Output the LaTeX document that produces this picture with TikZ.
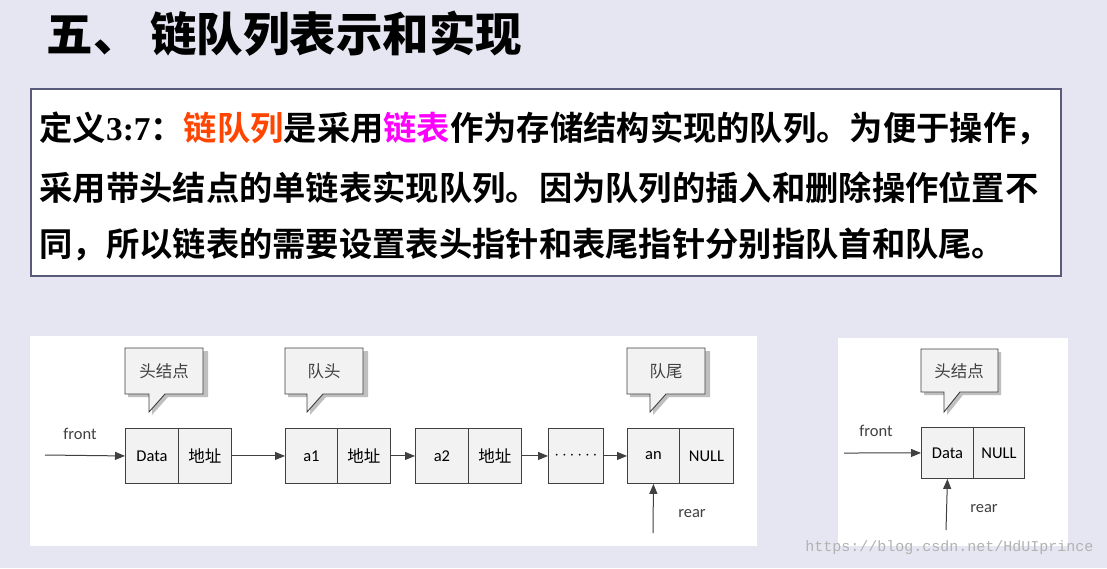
\documentclass[tikz,border=0pt]{standalone}
\usepackage{fontspec}
\setmainfont{Liberation Serif}
\setsansfont{Carlito}
\setmonofont{Liberation Mono}
\newfontfamily\cjk{Noto Sans CJK SC}
\newfontfamily\cjkb{Noto Sans CJK SC}[BoldFont={* Bold}]
\usetikzlibrary{arrows.meta,shapes.callouts}
\definecolor{bg}{HTML}{E6E6F2}
\definecolor{boxb}{HTML}{5A5A7A}
\definecolor{cell}{HTML}{F2F2F2}
\definecolor{ln}{HTML}{404040}
\begin{document}
\begin{tikzpicture}[x=1pt,y=-1pt,
  cellbox/.style={draw=ln,fill=cell,line width=0.9pt,minimum height=55pt,inner sep=0pt,font=\sffamily\fontsize{16.5}{16.5}\selectfont},
  lbl/.style={font=\sffamily\fontsize{16.5}{16.5}\selectfont,text=ln},
  arr/.style={-{Triangle[length=10pt,width=8pt]},draw=ln,line width=1pt},
  call/.style={draw=ln,fill=cell,line width=0.9pt}]
\fill[bg] (0,0) rectangle (1107,568);
\useasboundingbox (0,0) rectangle (1107,568);
\node[anchor=west,font=\cjk\bfseries\fontsize{46.5}{46.5}\selectfont] (title) at (43,34) {五、 链队列表示和实现};
\node[draw=boxb,line width=2pt,fill=white,minimum width=1030pt,minimum height=187pt,anchor=north west] (def) at (30,88) {};
\begin{scope}[every node/.style={anchor=west,font=\cjkb\bfseries\fontsize{33.3}{33.3}\selectfont}]
\node (l1) at (36,128) {定义{\rmfamily\bfseries 3:7}：{\color[HTML]{FF4500}链队列}是采用{\color[HTML]{FF00FF}链表}作为存储结构实现的队列。为便于操作，};
\node (l2) at (36,188) {采用带头结点的单链表实现队列。因为队列的插入和删除操作位置不};
\node (l3) at (36,245) {同，所以链表的需要设置表头指针和表尾指针分别指队首和队尾。};
\end{scope}
% panels
\fill[white] (30,336) rectangle (757,546);
\fill[white] (838,338) rectangle (1068,546);
% left list
\foreach \n/\x/\w/\t in {d1/125/53/Data,p1/178/53/{\cjk 地址},d2/285/52/a1,p2/337/53/{\cjk 地址},d3/415/53/a2,p3/468/53/{\cjk 地址},d4/548/55/{$\cdots\cdots$},d5/627/52/an,p5/679/54/NULL}
  \node[cellbox,minimum width=\w pt,anchor=north west] (\n) at (\x,428) {\t};
\coordinate (fs) at (45,455);
\coordinate (rs) at (653,533);
\draw[arr] (fs) -- (d1.west);
\draw[arr] (p1.east) -- (d2.west);
\draw[arr] (p2.east) -- (d3.west);
\draw[arr] (p3.east) -- (d4.west);
\draw[arr] (d4.east) -- (d5.west);
\draw[arr] (rs) -- (d5.south);
\node[lbl] (fl) at (80,434) {front};
\node[lbl] (rl) at (692,514) {rear};
% callouts
\foreach \n/\x/\tx/\t in {c1/125/149/头结点,c2/285/307/队头,c3/627/650/队尾}{
  \fill[black!25] (\x+3,351) -- (\x+83,351) -- (\x+83,397) -- (\tx+19,397) -- (\tx+3,415) -- (\tx+3,397) -- (\x+3,397) -- cycle;
  \draw[call] (\x,348) -- (\x+78,348) -- (\x+78,394) -- (\tx+16,394) -- (\tx,412) -- (\tx,394) -- (\x,394) -- cycle;
  \node[font=\cjk\fontsize{16.5}{16.5}\selectfont,text=ln] (\n) at (\x+39,371) {\t};
}
% right list
\node[cellbox,minimum width=52pt,minimum height=51pt,anchor=north west] (rd) at (921,427) {Data};
\node[cellbox,minimum width=51pt,minimum height=51pt,anchor=north west] (rp) at (973,427) {NULL};
\coordinate (fs2) at (844,453);
\coordinate (rs2) at (946,530);
\draw[arr] (fs2) -- (rd.west);
\draw[arr] (rs2) -- (rd.south);
\node[lbl] (fl2) at (876,431) {front};
\node[lbl] (rl2) at (984,509) {rear};
\fill[black!25] (924,352) -- (1001,352) -- (1001,395) -- (963,395) -- (947,415) -- (947,395) -- (924,395) -- cycle;
\draw[call] (921,349) -- (998,349) -- (998,392) -- (960,392) -- (944,412) -- (944,392) -- (921,392) -- cycle;
\node[font=\cjk\fontsize{16.5}{16.5}\selectfont,text=ln] (c4) at (959,371) {头结点};
\node[font=\ttfamily\fontsize{15}{15}\selectfont,text=black!30,anchor=east] (wm) at (1097,548) {https://blog.csdn.net/HdUIprince};
\end{tikzpicture}
\end{document}
